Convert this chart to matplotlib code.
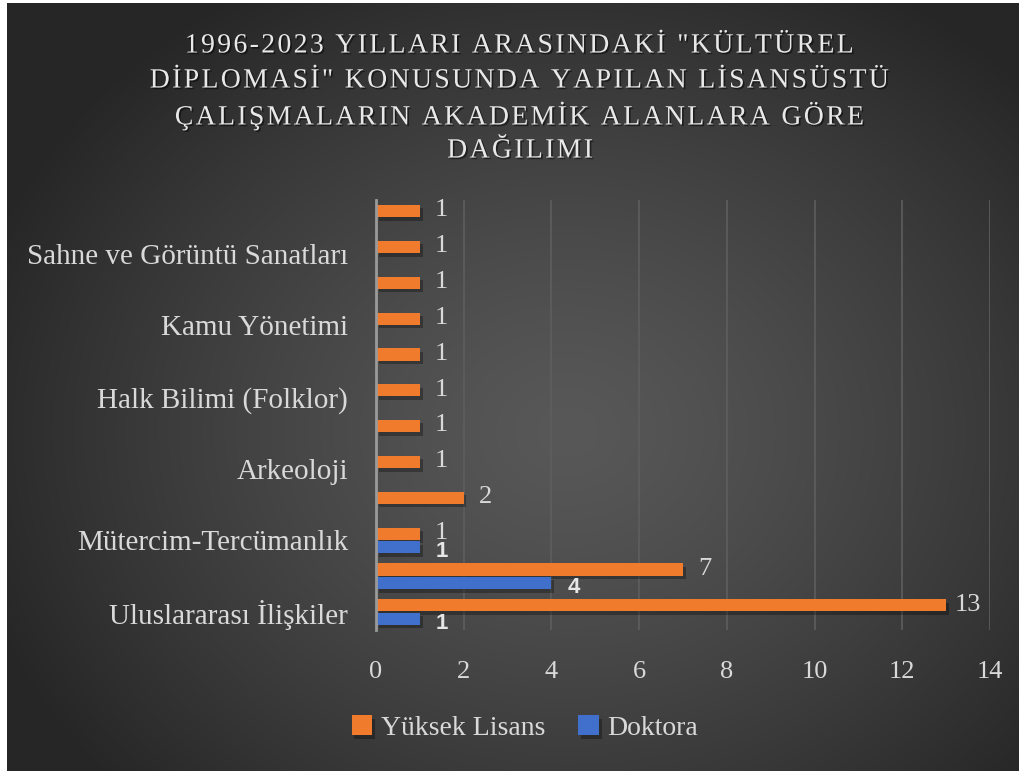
import numpy as np
import matplotlib
matplotlib.use("Agg")
import matplotlib.pyplot as plt
import matplotlib.patheffects as pe

# data (bottom -> top), unlabeled categories were skipped by the original chart
categories = ["Uluslararası İlişkiler", "", "Mütercim-Tercümanlık", "", "Arkeoloji", "",
              "Halk Bilimi (Folklor)", "", "Kamu Yönetimi", "", "Sahne ve Görüntü Sanatları", ""]
yuksek_lisans = [13, 7, 1, 2, 1, 1, 1, 1, 1, 1, 1, 1]
doktora = [1, 4, 1, None, None, None, None, None, None, None, None, None]
xticks = [0, 2, 4, 6, 8, 10, 12, 14]
title_lines = ['1996-2023 YILLARI ARASINDAKİ "KÜLTÜREL',
               'DİPLOMASİ" KONUSUNDA YAPILAN LİSANSÜSTÜ',
               'ÇALIŞMALARIN AKADEMİK ALANLARA GÖRE',
               'DAĞILIMI']

ORANGE = "#f07b2c"
BLUE = "#4070cc"
TXT = "#d9d9d9"
SERIF = ["Liberation Serif", "DejaVu Serif"]

fig = plt.figure(figsize=(10.2, 7.71), dpi=100)
fig.patch.set_facecolor("white")

# radial gradient background
bg = fig.add_axes([7 / 1020, 0, 1 - 7 / 1020, 1 - 3 / 771], zorder=-5)
yy, xx = np.mgrid[0:771, 0:1013]
r = np.sqrt(((xx - 560) / 620.0) ** 2 + ((yy - 430) / 520.0) ** 2)
r = np.clip(r, 0, 1)
g = 0.345 - (0.345 - 0.15) * r ** 1.3
img = np.dstack([g, g, g])
bg.imshow(img, aspect="auto", extent=[0, 1, 0, 1], origin="upper")
bg.axis("off")

ax = fig.add_axes([376 / 1020, 1 - 630 / 771, (990 - 376) / 1020, (630 - 200) / 771])
ax.patch.set_alpha(0)

y = np.arange(len(categories))
h = 0.34
off = 0.19
shadow = [pe.SimplePatchShadow(offset=(2, -2.5), shadow_rgbFace="black", alpha=0.3), pe.Normal()]

bars_yl = ax.barh(y + off, yuksek_lisans, height=h, color=ORANGE, label="Yüksek Lisans", zorder=3)
d_vals = [np.nan if v is None else v for v in doktora]
bars_d = ax.barh(y - off, d_vals, height=h, color=BLUE, label="Doktora", zorder=3)
for b in list(bars_yl) + list(bars_d):
    b.set_path_effects(shadow)

for yi, v in zip(y, yuksek_lisans):
    ax.text(v + 0.5, yi + off + 0.02, str(v), ha="center", va="center", color=TXT,
            fontsize=19, family=SERIF, zorder=5)
for yi, v in zip(y, doktora):
    if v is None:
        continue
    ax.text(v + 0.5, yi - off - 0.12, str(v), ha="center", va="center", color="#e6e6e6",
            fontsize=16, fontweight="bold", family=["Liberation Sans", "DejaVu Sans"], zorder=5)

ax.set_xlim(0, 14)
ax.set_ylim(-0.5, len(categories) - 0.5)
ax.set_xticks(xticks)
ax.set_yticks(y)
ax.set_yticklabels(categories)
ax.tick_params(axis="both", length=0, colors=TXT)
ax.tick_params(axis="y", pad=20, labelsize=21)
ax.tick_params(axis="x", pad=22, labelsize=19)
for lab in ax.get_xticklabels() + ax.get_yticklabels():
    lab.set_family(SERIF)

ax.grid(axis="x", color="#5e5e5e", linewidth=1.2, zorder=0)
ax.set_axisbelow(True)
for s in ["top", "right", "bottom"]:
    ax.spines[s].set_visible(False)
ax.spines["left"].set_color("#9a9a9a")
ax.spines["left"].set_linewidth(2)
ax.spines["left"].set_zorder(4)

# spaced capitals for the title, one line at a time
title_shadow = [pe.withSimplePatchShadow(offset=(1.2, -1.2), shadow_rgbFace="black", alpha=0.5)]
for i, line in enumerate(title_lines):
    fig.text(0.51, 1 - (46 + 35 * i) / 771, "\u200a".join(line), ha="center", va="center",
             color="#e8e8e8", fontsize=20, family=SERIF, path_effects=title_shadow)

leg = fig.legend(handles=[bars_yl, bars_d], loc="center", bbox_to_anchor=(525 / 1020, 1 - 728 / 771),
                 ncol=2, frameon=False, handlelength=0.75, handleheight=0.75, handletextpad=0.3,
                 columnspacing=1.2, prop={"family": SERIF, "size": 20})
for t in leg.get_texts():
    t.set_color(TXT)

fig.savefig("out.png", dpi=100, facecolor=fig.get_facecolor())
